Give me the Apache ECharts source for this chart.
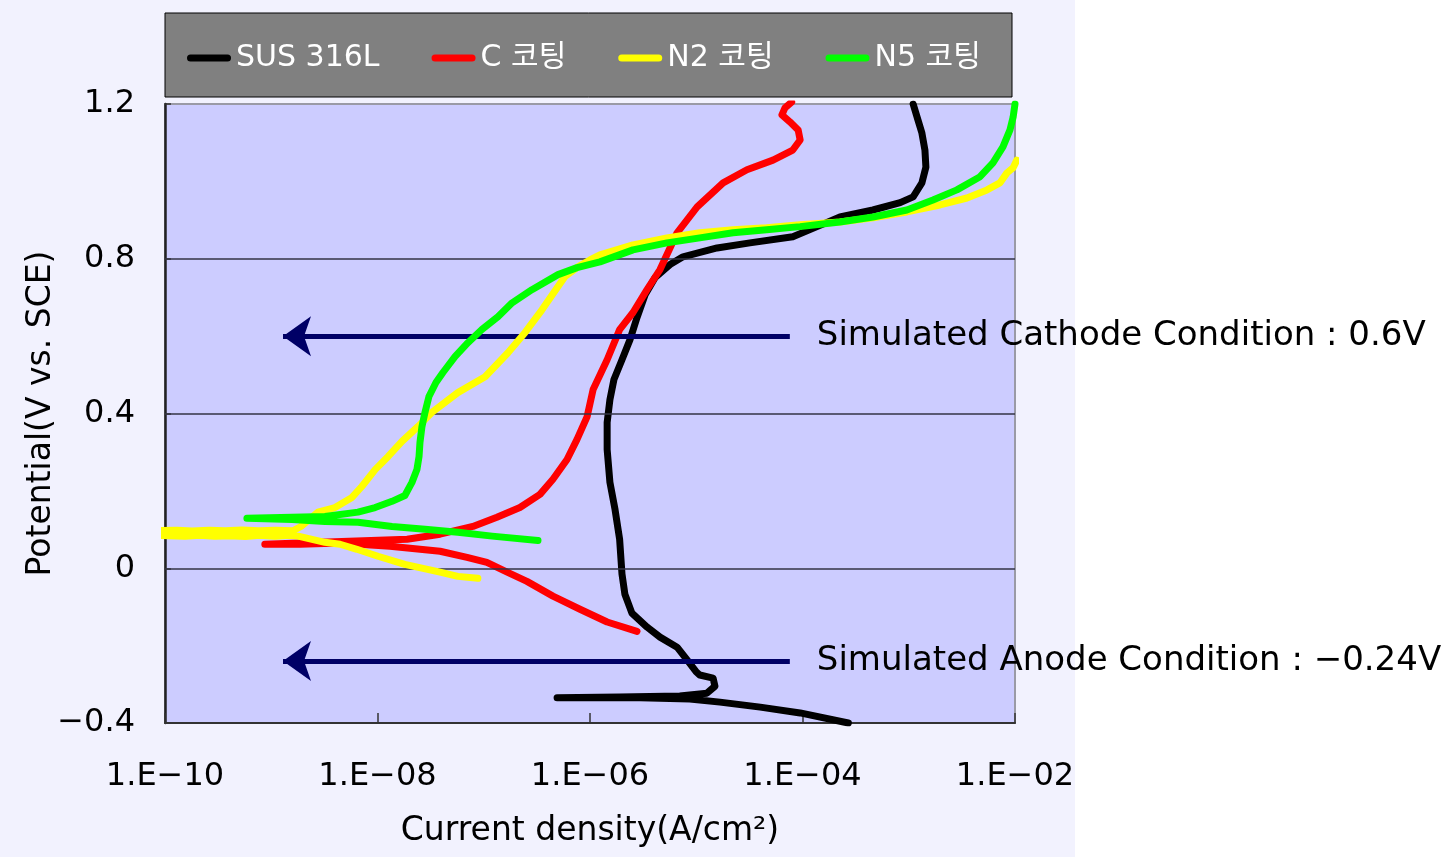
<!DOCTYPE html>
<html>
<head>
<meta charset="utf-8">
<title>Polarization curves</title>
<script src="https://cdn.jsdelivr.net/npm/echarts@6/dist/echarts.min.js"></script>
<style>
  html, body { margin: 0; padding: 0; background: #ffffff; }
  #chart {
    width: 1455px; height: 857px;
    background: linear-gradient(to right, #f2f2fe 0, #f2f2fe 1075px, #ffffff 1075px);
  }
</style>
</head>
<body>
<div id="chart"></div>
<script>
// Series names shown in the legend
const seriesNames = ['SUS 316L', 'C 코팅', 'N2 코팅', 'N5 코팅'];
const seriesColors = ['#000000', '#ff0000', '#ffff00', '#00ff00'];

// Tick labels of the log current axis (one every two decades)
const xTickLabels = ['1.E\u221210', '1.E\u221208', '1.E\u221206', '1.E\u221204', '1.E\u221202'];

// SUS 316L : current density (A/cm2) and potential (V vs. SCE), in scan order
const susCurrent = [2.7e-4, 9.5e-5, 4.0e-5, 1.67e-5, 8.7e-6, 2.96e-6, 1.24e-6, 4.9e-7, 1.9e-6, 7.0e-6,
  1.26e-5, 1.5e-5, 1.44e-5, 1.08e-5, 1.0e-5, 8.2e-6, 6.6e-6, 4.56e-6, 3.44e-6, 2.48e-6,
  2.13e-6, 2.0e-6, 1.9e-6, 1.72e-6, 1.54e-6, 1.45e-6, 1.45e-6, 1.54e-6, 1.68e-6, 2.0e-6,
  2.38e-6, 2.77e-6, 3.3e-6, 4.09e-6, 5.66e-6, 7.5e-6, 1.57e-5, 3.2e-5, 8.1e-5, 1.37e-4,
  2.25e-4, 4.6e-4, 8.3e-4, 1.1e-3, 1.33e-3, 1.45e-3, 1.42e-3, 1.33e-3, 1.22e-3, 1.1e-3];
const susPotential = [-0.40, -0.374, -0.359, -0.346, -0.338, -0.335, -0.335, -0.335, -0.333, -0.330,
  -0.323, -0.305, -0.284, -0.276, -0.268, -0.237, -0.204, -0.178, -0.152, -0.116,
  -0.067, -0.015, 0.075, 0.152, 0.222, 0.307, 0.377, 0.436, 0.488, 0.539,
  0.591, 0.648, 0.707, 0.751, 0.785, 0.805, 0.828, 0.841, 0.857, 0.883,
  0.908, 0.926, 0.945, 0.960, 0.996, 1.037, 1.081, 1.125, 1.159, 1.2];

// C coating
const cCurrent = [2.77e-6, 1.45e-6, 8.05e-7, 4.48e-7, 2.55e-7, 1.66e-7, 1.07e-7, 6.96e-8, 3.88e-8, 1.31e-8,
  4.44e-9, 1.87e-9, 8.7e-10, 2.88e-9, 1.9e-8, 3.88e-8, 7.9e-8, 1.33e-7, 2.19e-7, 3.38e-7,
  4.48e-7, 6.08e-7, 7.55e-7, 9.4e-7, 1.07e-6, 1.45e-6, 1.9e-6, 2.54e-6, 3.44e-6, 4.56e-6,
  6.6e-6, 1.02e-5, 1.79e-5, 3.0e-5, 5.28e-5, 8.1e-5, 9.5e-5, 9.1e-5, 7.6e-5, 6.4e-5,
  6.84e-5, 7.9e-5];
const cPotential = [-0.163, -0.139, -0.106, -0.072, -0.034, -0.010, 0.015, 0.028, 0.044, 0.057,
  0.065, 0.062, 0.062, 0.067, 0.075, 0.088, 0.108, 0.132, 0.157, 0.191,
  0.230, 0.281, 0.333, 0.392, 0.462, 0.539, 0.617, 0.661, 0.720, 0.772,
  0.867, 0.934, 0.996, 1.030, 1.055, 1.081, 1.107, 1.133, 1.154, 1.172,
  1.190, 1.205];

// N2 coating (noisy region near the corrosion potential runs off the left edge and back)
const n2Current = [8.8e-8, 5.7e-8, 3.88e-8, 1.81e-8, 1.01e-8, 6.4e-9, 4.44e-9, 3.2e-9, 1.79e-9,
  1.5e-9, 1.08e-9, 7.8e-10, 5.7e-10, 4.1e-10, 2.95e-10, 2.13e-10, 1.54e-10, 1.11e-10, 8e-11,
  8e-11, 1.3e-10, 1.8e-10, 2.6e-10, 3.7e-10, 5.3e-10, 7.6e-10, 1.1e-9, 1.6e-9,
  1.9e-9, 2.75e-9, 3.98e-9, 5.75e-9, 7.15e-9, 9.5e-9, 1.26e-8, 1.7e-8, 2.4e-8, 3.26e-8,
  5.7e-8, 1.03e-7, 1.69e-7, 2.44e-7, 3.53e-7, 5.0e-7, 5.82e-7, 7.7e-7, 1.0e-6, 1.24e-6,
  2.54e-6, 5.3e-6, 1.08e-5, 2.22e-5, 4.6e-5, 9.5e-5, 2.25e-4, 4.6e-4, 9.6e-4, 1.97e-3,
  3.53e-3, 5.45e-3, 7.2e-3, 8.4e-3, 9.6e-3, 1.04e-2];
const n2Potential = [-0.026, -0.021, -0.010, 0.010, 0.031, 0.049, 0.062, 0.067, 0.083,
  0.085, 0.083, 0.085, 0.082, 0.084, 0.083, 0.085, 0.083, 0.084, 0.085,
  0.097, 0.098, 0.096, 0.098, 0.097, 0.099, 0.097, 0.098, 0.097,
  0.108, 0.145, 0.157, 0.183, 0.212, 0.255, 0.289, 0.328, 0.366, 0.403,
  0.454, 0.495, 0.557, 0.609, 0.668, 0.728, 0.754, 0.779, 0.797, 0.810,
  0.836, 0.854, 0.867, 0.875, 0.880, 0.888, 0.895, 0.906, 0.921, 0.939,
  0.957, 0.978, 0.996, 1.022, 1.035, 1.055];

// N5 coating
const n5Current = [3.24e-7, 1.2e-7, 5.7e-8, 2.8e-8, 1.37e-8, 6.55e-9, 3.2e-9, 1.57e-9, 5.9e-10, 1.57e-9,
  3.2e-9, 6.55e-9, 9.5e-9, 1.37e-8, 1.81e-8, 2.11e-8, 2.35e-8, 2.46e-8, 2.51e-8, 2.62e-8,
  2.8e-8, 3.05e-8, 3.55e-8, 4.13e-8, 5.36e-8, 7.1e-8, 9.6e-8, 1.36e-7, 1.85e-7, 2.84e-7,
  5.0e-7, 7.55e-7, 1.24e-6, 2.54e-6, 5.3e-6, 1.08e-5, 2.22e-5, 4.6e-5, 9.5e-5, 2.25e-4,
  4.6e-4, 9.6e-4, 1.69e-3, 2.84e-3, 4.69e-3, 6.2e-3, 7.7e-3, 8.97e-3, 9.6e-3, 1.0e-2];
const n5Potential = [0.072, 0.083, 0.093, 0.101, 0.108, 0.119, 0.121, 0.126, 0.129, 0.132,
  0.134, 0.145, 0.157, 0.173, 0.188, 0.222, 0.255, 0.289, 0.325, 0.366,
  0.403, 0.444, 0.480, 0.506, 0.547, 0.583, 0.617, 0.650, 0.686, 0.720,
  0.759, 0.777, 0.792, 0.823, 0.841, 0.854, 0.867, 0.875, 0.883, 0.895,
  0.908, 0.926, 0.952, 0.978, 1.012, 1.048, 1.089, 1.133, 1.166, 1.2];

// Simulated operating conditions (potential in V) and the current span of each arrow
const cathodePotential = 0.6;
const anodePotential = -0.24;
const arrowFrom = 7.6e-5;
const arrowTo = 1.29e-9;
const cathodeText = 'Simulated Cathode Condition : 0.6V';
const anodeText = 'Simulated Anode Condition : \u22120.24V';

// Horizontal reference lines inside the plot
const gridPotentials = [0, 0.4, 0.8];

const FONT = "'DejaVu Sans', 'Noto Sans CJK KR', sans-serif";

function pairs(xs, ys) {
  return xs.map((x, i) => [x, ys[i]]);
}

const curves = [
  pairs(susCurrent, susPotential),
  pairs(cCurrent, cPotential),
  pairs(n2Current, n2Potential),
  pairs(n5Current, n5Potential)
];

const chart = echarts.init(document.getElementById('chart'), null, { renderer: 'canvas' });

const curveSeries = curves.map((data, i) => ({
  name: seriesNames[i],
  type: 'line',
  data: data,
  showSymbol: false,
  symbol: 'none',
  smooth: false,
  z: 3 + i,
  color: seriesColors[i],
  lineStyle: { color: seriesColors[i], width: 7, cap: 'round', join: 'round' },
  animation: false
}));

const option = {
  backgroundColor: 'transparent',
  animation: false,
  textStyle: { fontFamily: FONT },
  graphic: [{
    type: 'rect',
    z: 0,
    shape: { x: 165, y: 13, width: 847, height: 84 },
    style: { fill: '#808080', stroke: '#000000', lineWidth: 1 }
  }],
  legend: {
    data: seriesNames,
    left: 187,
    top: 43,
    z: 10,
    padding: 0,
    itemWidth: 44,
    itemHeight: 7,
    itemGap: 52,
    icon: 'path://M3.5,0 L40.5,0 A3.5,3.5 0 0 1 40.5,7 L3.5,7 A3.5,3.5 0 0 1 3.5,0 Z',
    textStyle: { color: '#ffffff', fontSize: 30, fontFamily: FONT, padding: [0, 0, 0, 0] },
    selectedMode: false
  },
  grid: {
    left: 165, right: 440, top: 104, bottom: 134,
    show: true,
    backgroundColor: '#ccccff',
    borderColor: '#9a9aa6',
    borderWidth: 2
  },
  xAxis: {
    type: 'log',
    logBase: 100,
    min: 1e-10,
    max: 1e-2,
    name: 'Current density(A/cm\u00b2)',
    nameLocation: 'middle',
    nameGap: 92,
    nameMoveOverlap: false,
    nameTextStyle: { fontSize: 33, color: '#000', fontFamily: FONT },
    axisLine: { show: true, onZero: false, lineStyle: { color: '#333', width: 2 } },
    axisTick: { show: true, inside: true, length: 10, lineStyle: { color: '#333', width: 1.5 } },
    axisLabel: {
      margin: 38,
      fontSize: 32,
      color: '#000',
      fontFamily: FONT,
      formatter: function (v) {
        const e = Math.round(Math.log10(v));
        return xTickLabels[(e + 10) / 2] || '';
      }
    },
    splitLine: { show: false },
    minorTick: { show: false }
  },
  yAxis: {
    type: 'value',
    min: -0.4,
    max: 1.2,
    interval: 0.4,
    name: 'Potential(V vs. SCE)',
    nameLocation: 'middle',
    nameGap: 107,
    nameMoveOverlap: false,
    nameTextStyle: { fontSize: 33, color: '#000', fontFamily: FONT },
    axisLine: { show: true, onZero: false, lineStyle: { color: '#222', width: 2.5 } },
    axisTick: { show: true, inside: true, length: 6, lineStyle: { color: '#333', width: 1.5 } },
    axisLabel: {
      margin: 30,
      fontSize: 32,
      color: '#000',
      fontFamily: FONT,
      formatter: function (v) {
        const r = Math.round(v * 10) / 10;
        if (r === 0) return '0';
        return (r < 0 ? '\u2212' : '') + Math.abs(r).toFixed(1);
      }
    },
    splitLine: { show: false }
  },
  series: [
    {
      name: 'gridlines',
      type: 'line',
      data: [],
      z: 1,
      silent: true,
      markLine: {
        silent: true,
        animation: false,
        symbol: ['none', 'none'],
        label: { show: false },
        lineStyle: { color: '#333344', width: 1.5, type: 'solid' },
        emphasis: { disabled: true },
        data: gridPotentials.map(v => ({ yAxis: v }))
      }
    }
  ].concat(curveSeries).concat([
    {
      name: 'conditions',
      type: 'line',
      data: [],
      z: 20,
      silent: true,
      markLine: {
        silent: true,
        animation: false,
        symbol: ['none', 'arrow'],
        symbolSize: [30, 28],
        lineStyle: { color: '#000066', width: 5, type: 'solid' },
        emphasis: { disabled: true },
        label: {
          show: true,
          position: 'start',
          distance: 27,
          color: '#000',
          fontSize: 34,
          fontFamily: FONT,
          formatter: '{b}'
        },
        data: [
          [{ name: cathodeText, coord: [arrowFrom, cathodePotential] }, { coord: [arrowTo, cathodePotential] }],
          [{ name: anodeText, coord: [arrowFrom, anodePotential] }, { coord: [arrowTo, anodePotential] }]
        ]
      }
    }
  ])
};

chart.setOption(option);
</script>
</body>
</html>
